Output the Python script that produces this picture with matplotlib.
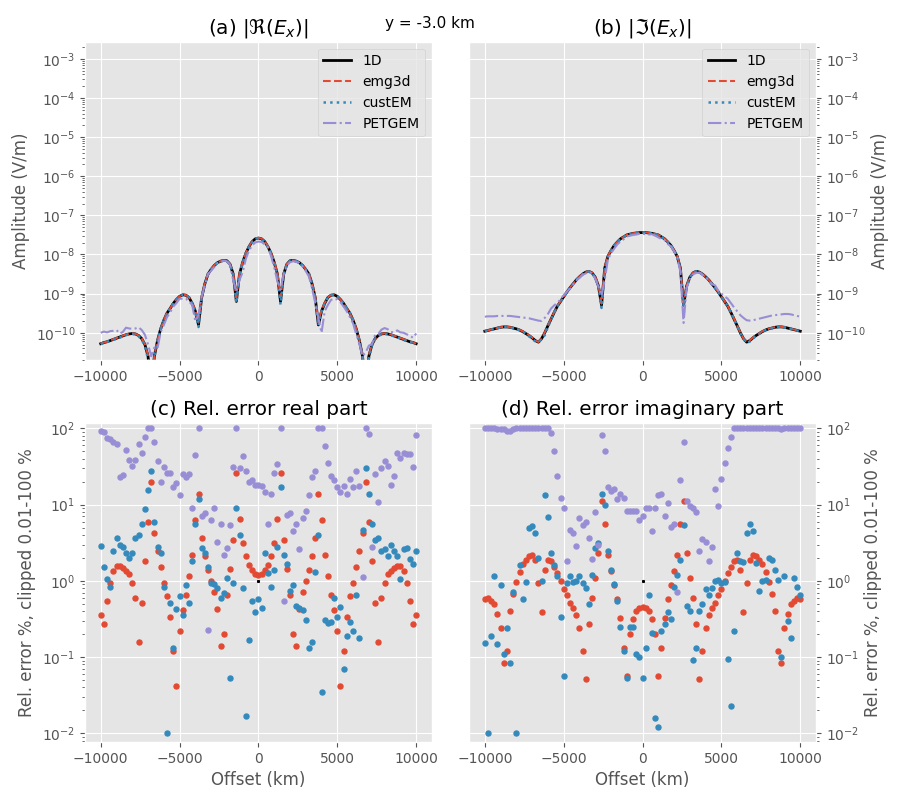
import numpy as np
import matplotlib
matplotlib.use('Agg')
import matplotlib.pyplot as plt
from matplotlib.ticker import LogLocator

plt.style.use('ggplot')

# receiver offsets (m), 200 m spacing
offset = np.arange(-10000, 10001, 200)

# amplitudes, as log10(V/m)
re_1d_log = [
    -10.28, -10.25, -10.23, -10.20, -10.17, -10.14, -10.11, -10.08, -10.05, -10.03, -10.02,
    -10.03, -10.07, -10.15, -10.30, -10.60, -11.50, -10.60, -10.20, -9.90, -9.68,
    -9.50, -9.38, -9.25, -9.15, -9.07, -9.03, -9.04, -9.10, -9.25, -9.45,
    -9.80, -9.10, -8.75, -8.50, -8.38, -8.28, -8.21, -8.17, -8.15, -8.16,
    -8.25, -8.50, -9.20, -8.50, -8.20, -7.97, -7.80, -7.67, -7.60, -7.58,
    -7.60, -7.67, -7.80, -7.97, -8.20, -8.50, -9.20, -8.50, -8.25, -8.16,
    -8.15, -8.17, -8.21, -8.28, -8.38, -8.50, -8.75, -9.10, -9.80, -9.45,
    -9.25, -9.10, -9.04, -9.03, -9.07, -9.15, -9.25, -9.38, -9.50, -9.68,
    -9.90, -10.20, -10.60, -11.50, -10.60, -10.30, -10.15, -10.07, -10.03, -10.02,
    -10.03, -10.05, -10.08, -10.11, -10.14, -10.17, -10.20, -10.23, -10.25, -10.28]

re_petgem_log = [
    -10.00, -9.97, -9.99, -9.96, -9.95, -9.93, -10.02, -9.98, -9.87, -9.89, -9.90,
    -9.89, -9.86, -9.93, -10.05, -10.30, -10.60, -10.38, -10.40, -9.98, -9.80,
    -9.60, -9.48, -9.33, -9.24, -9.13, -9.13, -9.13, -9.20, -9.29, -9.71,
    -9.55, -9.07, -8.78, -8.50, -8.41, -8.32, -8.22, -8.19, -8.16, -8.17,
    -8.27, -8.66, -8.95, -8.65, -8.45, -8.11, -7.90, -7.77, -7.69, -7.67,
    -7.68, -7.74, -7.82, -8.04, -8.33, -8.68, -8.90, -8.50, -8.28, -8.20,
    -8.17, -8.19, -8.22, -8.31, -8.42, -8.56, -8.86, -9.24, -9.62, -10.00,
    -9.45, -9.29, -9.16, -9.13, -9.15, -9.22, -9.33, -9.45, -9.60, -9.76,
    -10.04, -10.28, -10.60, -10.50, -10.33, -10.29, -10.05, -10.03, -9.92, -9.88,
    -9.91, -9.98, -9.99, -9.94, -9.99, -10.00, -10.04, -10.07, -10.13, -10.02]

im_1d_log = [
    -9.96, -9.94, -9.92, -9.90, -9.88, -9.86, -9.85, -9.85, -9.86, -9.88, -9.90,
    -9.93, -9.97, -10.02, -10.07, -10.13, -10.20, -10.24, -10.15, -10.00, -9.82,
    -9.65, -9.48, -9.32, -9.20, -9.08, -8.96, -8.85, -8.75, -8.65, -8.57,
    -8.50, -8.45, -8.43, -8.47, -8.58, -8.80, -9.30, -8.35, -8.05, -7.90,
    -7.77, -7.68, -7.60, -7.55, -7.50, -7.48, -7.46, -7.45, -7.44, -7.44,
    -7.44, -7.45, -7.46, -7.48, -7.50, -7.55, -7.60, -7.68, -7.77, -7.90,
    -8.05, -8.35, -9.30, -8.80, -8.58, -8.47, -8.43, -8.45, -8.50, -8.57,
    -8.65, -8.75, -8.85, -8.96, -9.08, -9.20, -9.32, -9.48, -9.65, -9.82,
    -10.00, -10.15, -10.24, -10.20, -10.13, -10.07, -10.02, -9.97, -9.93, -9.90,
    -9.88, -9.86, -9.85, -9.85, -9.86, -9.88, -9.90, -9.92, -9.94, -9.96]

im_petgem_log = [
    -9.59, -9.58, -9.58, -9.58, -9.57, -9.57, -9.57, -9.57, -9.57, -9.58, -9.59,
    -9.60, -9.61, -9.62, -9.63, -9.65, -9.67, -9.69, -9.70, -9.62, -9.52,
    -9.38, -9.30, -9.23, -9.15, -9.04, -8.95, -8.87, -8.77, -8.66, -8.60,
    -8.52, -8.48, -8.45, -8.48, -8.62, -8.81, -9.05, -8.66, -8.13, -7.97,
    -7.85, -7.74, -7.67, -7.61, -7.54, -7.52, -7.50, -7.49, -7.47, -7.47,
    -7.48, -7.49, -7.48, -7.52, -7.56, -7.61, -7.63, -7.73, -7.79, -7.92,
    -8.05, -8.45, -9.75, -8.85, -8.62, -8.51, -8.47, -8.46, -8.52, -8.58,
    -8.66, -8.76, -8.79, -8.92, -9.00, -9.07, -9.13, -9.24, -9.35, -9.45,
    -9.55, -9.62, -9.68, -9.69, -9.68, -9.66, -9.64, -9.62, -9.60, -9.58,
    -9.56, -9.55, -9.54, -9.53, -9.52, -9.52, -9.53, -9.55, -9.57, -9.59]

# relative errors (%), clipped to 0.01-100
err_re_emg3d = [
    0.36, 0.27, 0.54, 0.95, 1.35, 1.55, 1.55, 1.48, 1.35, 1.22, 0.95,
    0.59, 0.16, 0.52, 1.8, 6.0, 20, 4.2, 2.5, 1.5, 0.95,
    0.63, 0.34, 0.12, 0.042, 0.22, 0.41, 0.66, 1.15, 2.2, 6.2,
    14, 3.6, 2.1, 1.4, 1.0, 0.71, 0.43, 0.14, 0.2, 0.66,
    1.45, 3.4, 26, 6.5, 3.1, 2.1, 1.6, 1.4, 1.22, 1.2,
    1.22, 1.4, 1.6, 2.1, 3.1, 6.5, 26, 3.4, 1.45, 0.66,
    0.2, 0.14, 0.43, 0.71, 1.0, 1.4, 2.1, 3.6, 14, 6.2,
    2.2, 1.15, 0.66, 0.41, 0.22, 0.042, 0.12, 0.34, 0.63, 0.95,
    1.5, 2.5, 4.2, 20, 6.0, 1.8, 0.52, 0.16, 0.59, 0.95,
    1.22, 1.35, 1.48, 1.55, 1.55, 1.35, 0.95, 0.54, 0.27, 0.36]

err_re_custem = [
    2.9, 1.5, 1.07, 0.82, 2.45, 3.6, 3.0, 2.75, 2.3, 2.0, 2.3,
    3.6, 4.0, 5.5, 8.7, 15.5, 28, 6.0, 2.75, 2.3, 0.82,
    0.01, 0.52, 0.13, 0.43, 0.63, 0.36, 0.87, 0.52, 1.8, 5.5,
    11.7, 2.7, 2.3, 1.5, 0.93, 0.9, 0.8, 0.6, 0.7, 1.1,
    0.054, 0.93, 9.1, 4.0, 0.8, 0.017, 0.17, 0.55, 0.39, 0.57,
    0.44, 2.3, 1.26, 0.82, 1.37, 2.8, 17, 2.2, 1.66, 0.73,
    0.88, 0.47, 0.44, 0.42, 0.31, 0.13, 0.16, 1.3, 4.0, 0.035,
    0.31, 0.28, 0.29, 0.6, 0.34, 0.46, 0.07, 0.19, 0.29, 0.22,
    0.66, 0.18, 4.6, 30, 14, 5.5, 3.4, 3.6, 2.5, 2.65,
    2.15, 3.0, 2.5, 2.15, 1.05, 2.6, 2.7, 1.95, 1.65, 2.5]

err_re_petgem = [
    92, 90, 74, 72, 66, 63, 23, 24.5, 52, 38, 32,
    38, 62, 47, 76, 100, 100, 66, 37, 20, 31,
    26, 26, 17, 19.5, 13.5, 25, 23, 25, 9.1, 45,
    100, 7.1, 7.8, 0.23, 6.2, 9.1, 3.2, 5.5, 2.2, 2.7,
    5.4, 31, 100, 30, 43, 28, 20, 21, 18, 18,
    17.4, 14.8, 5.6, 14, 26, 34, 100, 0.55, 7.4, 7.8,
    4.5, 5.6, 2.6, 6.6, 8.3, 13.5, 23, 27.5, 100, 100,
    58, 35, 24, 21, 17, 14.8, 17.4, 14, 21.4, 17,
    27.5, 17.4, 1.12, 100, 85, 2.8, 25, 10.7, 30, 37,
    32, 18, 24, 47, 41, 47, 46, 46, 31, 81]

err_im_emg3d = [
    0.58, 0.59, 0.55, 0.49, 0.37, 0.24, 0.083, 0.12, 0.40, 0.68, 0.96,
    1.29, 1.64, 1.9, 2.1, 2.2, 1.9, 0.93, 0.39, 1.4, 1.86,
    1.8, 1.5, 1.26, 1.0, 0.78, 0.65, 0.52, 0.44, 0.36, 0.24,
    0.12, 0.051, 0.27, 0.59, 1.1, 2.3, 11, 5.5, 2.2, 1.33,
    0.87, 0.57, 0.33, 0.13, 0.056, 0.2, 0.32, 0.4, 0.44, 0.45,
    0.44, 0.4, 0.32, 0.2, 0.056, 0.13, 0.33, 0.57, 0.87, 1.33,
    2.2, 5.5, 11, 2.3, 1.1, 0.59, 0.27, 0.051, 0.12, 0.24,
    0.36, 0.44, 0.52, 0.65, 0.78, 1.0, 1.26, 1.5, 1.8, 1.86,
    1.4, 0.39, 0.93, 1.9, 2.2, 2.1, 1.9, 1.64, 1.29, 0.96,
    0.68, 0.40, 0.12, 0.083, 0.24, 0.37, 0.49, 0.55, 0.59, 0.58]

err_im_custem = [
    0.155, 0.01, 0.19, 1.15, 0.148, 0.87, 0.11, 0.24, 0.083, 0.71, 0.01,
    1.6, 0.57, 0.96, 4.9, 5.2, 4.2, 1.97, 1.0, 13.5, 6.8,
    2.3, 1.6, 1.15, 0.34, 0.056, 0.93, 1.15, 0.96, 1.0, 1.15,
    0.93, 0.8, 0.5, 1.2, 2.7, 3.1, 14, 10, 2.5, 1.37,
    0.91, 0.54, 0.25, 0.12, 0.054, 0.25, 0.25, 0.11, 0.1, 0.054,
    0.13, 0.65, 0.21, 0.016, 0.012, 0.22, 0.27, 0.39, 0.32, 0.82,
    1.2, 1.9, 5.4, 0.47, 0.4, 0.093, 0.13, 0.4, 0.5, 0.78,
    0.65, 0.8, 1.0, 1.02, 0.93, 0.96, 0.095, 0.023, 0.22, 2.3,
    1.8, 1.75, 4.2, 5.6, 4.5, 1.7, 0.73, 1.0, 1.02, 1.97,
    1.86, 1.37, 1.02, 0.1, 1.15, 0.3, 0.18, 1.1, 0.84, 0.65]

err_im_petgem = [
    100, 100, 100, 100, 99, 99, 97, 93, 92, 99, 100,
    100, 100, 100, 100, 100, 100, 100, 100, 100, 100,
    86, 50, 24, 12.4, 8.9, 1.8, 4.7, 4.3, 2.9, 6.6,
    5.4, 5.9, 3.7, 1.95, 8.1, 3.0, 83, 51, 17, 15,
    16, 12, 14, 12.4, 8.3, 8.3, 8.3, 8.3, 6.2, 7.2,
    9.1, 8.9, 4.5, 8.9, 13.2, 14, 7.2, 10.5, 5.1, 5.5,
    0.71, 21, 67, 11, 9.5, 8.9, 7.9, 2.45, 3.5, 3.2,
    1.8, 2.8, 16, 9.5, 21.5, 35, 55, 76, 100, 100,
    100, 100, 100, 100, 100, 100, 100, 100, 100, 100,
    100, 100, 100, 97, 100, 100, 100, 100, 100, 100]

# single reference mark drawn at zero offset in the error panels
ref_x = [0]
ref_y = [1]

re_1d = 10.0 ** np.array(re_1d_log)
im_1d = 10.0 ** np.array(im_1d_log)
re_petgem = 10.0 ** np.array(re_petgem_log)
im_petgem = 10.0 ** np.array(im_petgem_log)

fig, axs = plt.subplots(2, 2, figsize=(9, 8), dpi=100)
fig.subplots_adjust(left=0.0944, right=0.9067, top=0.948, bottom=0.0725,
                    wspace=0.107, hspace=0.199)

tops = [
    (axs[0, 0], re_1d, err_re_emg3d, err_re_custem, re_petgem, r'(a) $|\Re(E_x)|$'),
    (axs[0, 1], im_1d, err_im_emg3d, err_im_custem, im_petgem, r'(b) $|\Im(E_x)|$'),
]
for ax, amp, e_emg, e_cus, amp_pet, title in tops:
    ax.plot(offset, amp, 'k-', lw=2, label='1D')
    ax.plot(offset, amp*(1 + np.array(e_emg)/100), '--', color='C0', lw=1.5, label='emg3d')
    ax.plot(offset, amp*(1 - np.array(e_cus)/100), ':', color='C1', lw=1.8, label='custEM')
    ax.plot(offset, amp_pet, '-.', color='C2', lw=1.5, label='PETGEM')
    ax.set_yscale('log')
    ax.set_ylim(2e-11, 2.76e-3)
    ax.yaxis.set_major_locator(LogLocator(base=10, numticks=20))
    ax.set_title(title)
    ax.set_ylabel('Amplitude (V/m)')
    ax.legend(loc='upper right')

bots = [
    (axs[1, 0], err_re_emg3d, err_re_custem, err_re_petgem, '(c) Rel. error real part'),
    (axs[1, 1], err_im_emg3d, err_im_custem, err_im_petgem, '(d) Rel. error imaginary part'),
]
for ax, e_emg, e_cus, e_pet, title in bots:
    ax.plot(offset, e_emg, 'o', color='C0', ms=3.6)
    ax.plot(offset, e_cus, 'o', color='C1', ms=3.6)
    ax.plot(offset, e_pet, 'o', color='C2', ms=3.6)
    ax.plot(ref_x, ref_y, 'ks', ms=1.2)
    ax.set_yscale('log')
    ax.set_ylim(7.7e-3, 116)
    ax.set_title(title)
    ax.set_xlabel('Offset (km)')
    ax.set_ylabel('Rel. error %, clipped 0.01-100 %')

for ax in axs[:, 1]:
    ax.yaxis.tick_right()
    ax.yaxis.set_label_position('right')

fig.text(0.478, 0.9646, 'y = -3.0 km', ha='center', va='baseline', fontsize=11)

fig.savefig('out.png', dpi=100)
